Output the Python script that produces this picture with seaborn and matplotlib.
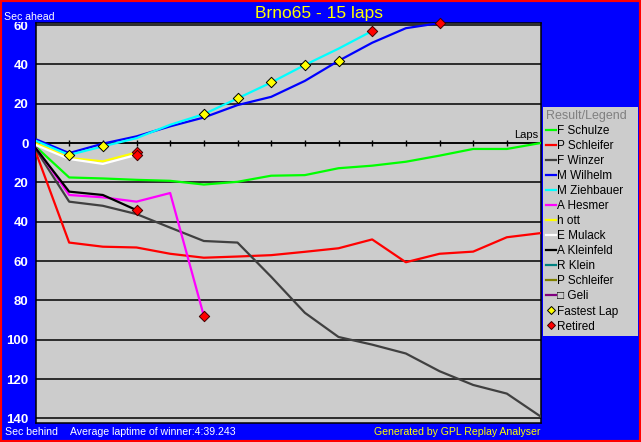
import matplotlib
matplotlib.use("Agg")
import numpy as np
import pandas as pd
import matplotlib.pyplot as plt
import seaborn as sns
from matplotlib.lines import Line2D
from matplotlib.patches import Rectangle
from matplotlib.ticker import FuncFormatter
from matplotlib.transforms import Bbox, TransformedBbox

plt.rcParams['font.family'] = ['Liberation Sans', 'DejaVu Sans']

# ---------------- data ----------------
title = "Brno65 - 15 laps"
laps = list(range(16))
drivers = ["F Schulze", "P Schleifer", "F Winzer", "M Wilhelm", "M Ziehbauer",
           "A Hesmer", "h ott", "E Mulack", "A Kleinfeld", "R Klein",
           "P Schleifer", "\u25a1 Geli"]
colors = ["#00ff00", "#ff0000", "#404040", "#0000ff", "#00ffff",
          "#ff00ff", "#ffff00", "#ffffff", "#000000", "#008080",
          "#808000", "#800080"]
# seconds ahead (+) / behind (-) per lap
schulze = [-1.7, -17.5, -18.0, -18.7, -19.2, -21.1, -19.7, -16.6, -16.3, -12.8, -11.5, -9.5, -6.4, -3.0, -3.0, 0.0]
schleifer = [-4.2, -50.6, -52.7, -53.1, -56.3, -58.3, -57.7, -57.0, -55.3, -53.5, -49.0, -60.6, -56.3, -55.2, -47.9, -45.8]
winzer = [-3.0, -29.8, -31.9, -36.1, -43.0, -49.8, -50.6, -68.0, -86.3, -98.6, -102.5, -107.0, -116.0, -123.0, -127.4, -139.0]
wilhelm = [2.0, -5.1, -0.3, 3.4, 8.5, 13.0, 19.3, 23.5, 31.6, 41.8, 51.0, 58.4, 61.0]
ziehbauer = [1.2, -6.0, -1.7, 2.5, 9.3, 14.7, 22.7, 30.8, 39.7, 48.0, 57.0]
hesmer = [-2.0, -26.4, -27.6, -29.8, -25.4, -87.9]
ott = [0.0, -7.6, -9.3, -4.8]
mulack = [-0.9, -8.1, -10.6, -6.0]
kleinfeld = [-2.5, -24.7, -26.4, -34.1]
klein = []
schleifer2 = []
geli = []
series = [schulze, schleifer, winzer, wilhelm, ziehbauer, hesmer, ott, mulack,
          kleinfeld, klein, schleifer2, geli]

fastest_driver = ["M Ziehbauer", "M Ziehbauer", "M Ziehbauer", "M Ziehbauer",
                  "M Ziehbauer", "M Ziehbauer", "M Wilhelm"]
fastest_lap = [1, 2, 5, 6, 7, 8, 9]
retired_driver = ["h ott", "E Mulack", "A Kleinfeld", "A Hesmer", "M Ziehbauer", "M Wilhelm"]
retired_lap = [3, 3, 3, 5, 10, 12]

avg_text = "Average laptime of winner:4:39.243"
gen_text = "Generated by GPL Replay Analyser"

# ---------------- build table ----------------
rows = []
for name, vals in zip(drivers, series):
    for lap, v in zip(laps, vals):
        rows.append((name, lap, v))
df = pd.DataFrame(rows, columns=["driver", "lap", "gap"])
present = [d for d in dict.fromkeys(df["driver"])]
palette = {}
for name, c in zip(drivers, colors):
    palette.setdefault(name, c)


def lookup(dname, lap):
    s = df[(df.driver == dname) & (df.lap == lap)]
    return float(s.gap.iloc[0])


fl = pd.DataFrame({"lap": fastest_lap,
                   "gap": [lookup(d, l) for d, l in zip(fastest_driver, fastest_lap)]})
rt = pd.DataFrame({"lap": retired_lap,
                   "gap": [lookup(d, l) for d, l in zip(retired_driver, retired_lap)]})

# ---------------- figure ----------------
W, H = 641, 442
fig = plt.figure(figsize=(W / 100, H / 100), dpi=100, facecolor="#0000ff")
ax_l, ax_r, ax_t, ax_b = 35.5, 540.5, 22.7, 423.3
ax = fig.add_axes([ax_l / W, 1 - ax_b / H, (ax_r - ax_l) / W, (ax_b - ax_t) / H])
ax.set_facecolor("#cccccc")

ymin, ymax = -142.5, 61.2
ax.set_xlim(0, 15)
ax.set_ylim(ymin, ymax)

sns.lineplot(data=df, x="lap", y="gap", hue="driver", hue_order=present,
             palette=palette, legend=False, errorbar=None, estimator=None,
             sort=False, lw=1.6, ax=ax, zorder=3)
sns.scatterplot(data=fl, x="lap", y="gap", marker="D", color="#ffff00",
                edgecolor="black", linewidth=0.7, s=28, ax=ax, zorder=5,
                clip_on=False, legend=False)
sns.scatterplot(data=rt, x="lap", y="gap", marker="D", color="#ff0000",
                edgecolor="#400000", linewidth=0.7, s=28, ax=ax, zorder=5,
                clip_on=False, legend=False)

ax.set_xlabel("")
ax.set_ylabel("")
ax.set_yticks(np.arange(-140, 61, 20))
ax.yaxis.set_major_formatter(FuncFormatter(lambda v, p: f"{abs(int(round(v)))}"))
ax.tick_params(axis="y", length=0, pad=5, labelcolor="white", labelsize=9.5)
for t in ax.get_yticklabels():
    t.set_fontweight("bold")
ax.set_xticks([])
ax.grid(axis="y", color="black", lw=1.1)
ax.grid(axis="x", visible=False)
ax.set_axisbelow(True)
for s in ax.spines.values():
    s.set_color("black")
    s.set_linewidth(1.1)

# lap axis at y = 0
sec = ax.secondary_xaxis((0 - ymin) / (ymax - ymin))
sec.set_xticks(laps[1:15])
sec.tick_params(direction="inout", length=5, width=1.0, color="black",
                labelbottom=False, labeltop=False)
for s in sec.spines.values():
    s.set_color("black")
    s.set_linewidth(1.1)
ax.annotate("Laps", xy=(15, 0), xytext=(-1.5, 2), textcoords="offset points",
            ha="right", va="bottom", fontsize=8, color="black")

# texts
fs_small = 7.6
fig.text(319 / W, 1 - 13.7 / H, title, ha="center", va="center",
         color="#ffff00", fontsize=12.5, zorder=6)
fig.text(4 / W, 1 - 20 / H, "Sec ahead", ha="left", va="baseline",
         color="white", fontsize=fs_small, zorder=6)
fig.text(5 / W, 1 - 435 / H, "Sec behind", ha="left", va="baseline",
         color="white", fontsize=fs_small, zorder=6)
fig.text(70 / W, 1 - 435 / H, avg_text, ha="left", va="baseline",
         color="white", fontsize=fs_small, zorder=6)
fig.text(541 / W, 1 - 435 / H, gen_text, ha="right", va="baseline",
         color="#ffff00", fontsize=fs_small, zorder=6)

# legend
handles = [Line2D([], [], color=c, lw=1.6) for c in colors]
handles.append(Line2D([], [], marker="D", ls="none", mfc="#ffff00", mec="black",
                      mew=0.7, ms=4.5))
handles.append(Line2D([], [], marker="D", ls="none", mfc="#ff0000", mec="#400000",
                      mew=0.7, ms=4.5))
labels = drivers + ["Fastest Lap", "Retired"]
leg = fig.legend(handles, labels, loc="upper left",
                 bbox_to_anchor=(543.3 / W, 1 - 106.7 / H, 95 / W, 0),
                 mode="expand", title="Result/Legend", alignment="left",
                 frameon=True, fancybox=False, facecolor="#cccccc",
                 edgecolor="#cccccc", framealpha=1, borderaxespad=0,
                 borderpad=0.25, handlelength=0.8, handletextpad=0.15,
                 labelspacing=0.26, fontsize=8.5, title_fontsize=9)
leg.get_title().set_color("#808080")
leg.get_frame().set_linewidth(0)

# red outer border
fig.add_artist(Rectangle((0, 0), 1, 1, transform=fig.transFigure, fill=False,
                         edgecolor="#ff0000", lw=3, zorder=10))

# clip y tick labels at the top edge of the plot area
fig.canvas.draw()
clip = TransformedBbox(Bbox.from_extents(0, 0, 1, 1 - (ax_t - 0.5) / H), fig.transFigure)
for tk in ax.yaxis.get_major_ticks():
    tk.label1.set_clip_box(clip)
    tk.label1.set_clip_on(True)

fig.savefig("out.png", dpi=100, facecolor=fig.get_facecolor())
